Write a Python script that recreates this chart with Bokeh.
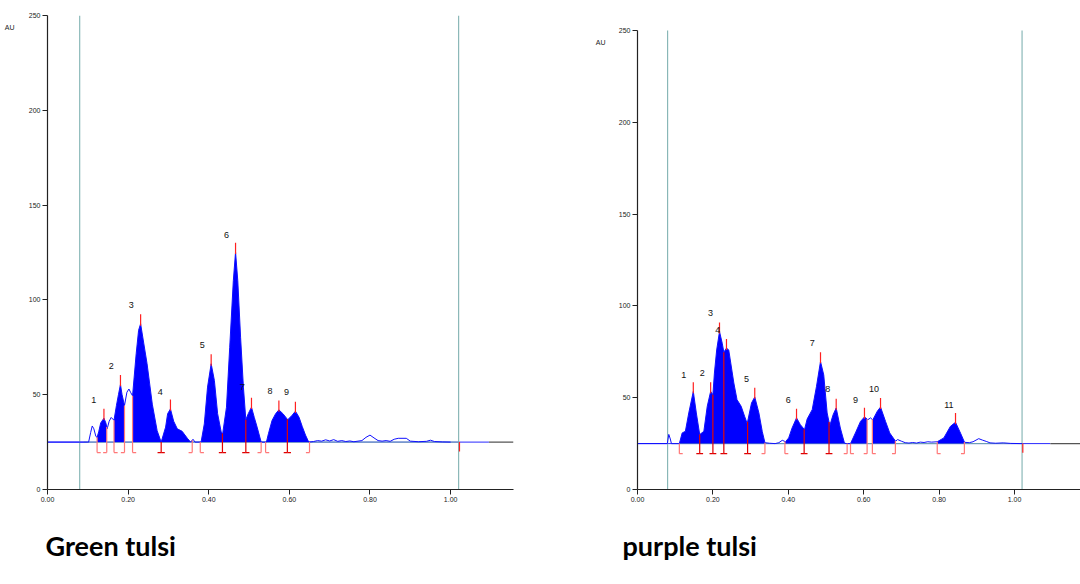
import numpy as np
from bokeh.plotting import figure
from bokeh.models import (Range1d, Title, FixedTicker, PrintfTickFormatter,
                          LinearAxis, CustomJSTickFormatter)
from bokeh.layouts import row
from bokeh.embed import file_html
from bokeh.resources import INLINE
from bokeh.core.properties import value

# ---------------- data ----------------
baseline_au = 25
application_rf = 0.08
front_rf = 1.02
front_tick_rf = 1.022
x_ticks = [0.0, 0.2, 0.4, 0.6, 0.8, 1.0]
y_ticks = [0, 50, 100, 150, 200, 250]
unit_label = "AU"
unit_label_au = 243.7

# Green tulsi densitogram (Rf, AU)
green_rf = [0.000, 0.100, 0.102, 0.107, 0.111, 0.115, 0.120, 0.123, 0.127, 0.132,
            0.140, 0.145, 0.148, 0.153, 0.158, 0.165, 0.171, 0.176, 0.181, 0.185,
            0.191, 0.197, 0.202, 0.206, 0.211, 0.220, 0.226, 0.231, 0.239, 0.247,
            0.260, 0.272, 0.282, 0.293, 0.298, 0.305, 0.313, 0.322, 0.334, 0.347,
            0.355, 0.361, 0.366, 0.381, 0.389, 0.397, 0.406, 0.414, 0.422, 0.431,
            0.4345, 0.444, 0.452, 0.461, 0.4665, 0.472, 0.479, 0.486, 0.492, 0.498,
            0.506, 0.513, 0.520, 0.530, 0.543, 0.548, 0.557, 0.566, 0.574, 0.584,
            0.596, 0.607, 0.615, 0.624, 0.632, 0.640, 0.648, 0.660, 0.670, 0.680,
            0.690, 0.700, 0.710, 0.720, 0.730, 0.740, 0.750, 0.760, 0.780, 0.790,
            0.800, 0.810, 0.820, 0.830, 0.840, 0.850, 0.860, 0.870, 0.890, 0.900,
            0.920, 0.940, 0.950, 0.960, 0.980, 1.000]
green_au = [25, 25, 25, 30, 33.5, 32, 28, 27.5, 30.4, 35.1,
            37.6, 35, 32, 36, 38, 36.5, 44.3, 50, 55.4, 50,
            44.3, 51.3, 53, 51.3, 49.4, 71.6, 84, 87.4, 76.8, 66.3,
            45, 31, 25, 32.9, 40, 42.5, 36, 32, 30.7, 27,
            25, 26.5, 25, 25, 34.6, 54, 66.3, 57.5, 40, 30.2,
            29.4, 43.4, 75, 110.2, 125.2, 110.2, 80.3, 54, 36.8, 40,
            43.4, 38, 32.9, 25, 25, 29.4, 36.4, 40, 42, 40,
            36.8, 39.2, 41.3, 38.1, 33.2, 28.7, 25, 25.3, 25.8, 25.5,
            26.2, 25.6, 26.3, 25.4, 25.8, 25.3, 25.6, 25.2, 25.8, 27.5,
            28.7, 27.2, 25.8, 25.5, 25.8, 25.4, 26.5, 27, 27, 25.5,
            25.2, 25.4, 26, 25.3, 25.1, 25]
green_starts = [0.123, 0.165, 0.211, 0.282, 0.379, 0.434, 0.492, 0.541, 0.595]
green_ends = [0.147, 0.191, 0.282, 0.359, 0.434, 0.492, 0.530, 0.595, 0.650]
green_peaks = [0.140, 0.181, 0.231, 0.305, 0.406, 0.4665, 0.506, 0.574, 0.615]
green_labels = ["1", "2", "3", "4", "5", "6", "7", "8", "9"]
green_label_rf = [0.115, 0.158, 0.208, 0.280, 0.384, 0.444, 0.483, 0.552, 0.593]
green_label_au = [47, 65.4, 97.4, 51.3, 76.3, 134, 54, 51.9, 51.2]

# Purple tulsi densitogram (Rf, AU)
purple_rf = [0.000, 0.079, 0.083, 0.087, 0.090, 0.111, 0.1185, 0.127, 0.136, 0.148,
             0.156, 0.165, 0.176, 0.185, 0.194, 0.200, 0.204, 0.210, 0.2175, 0.2247,
             0.229, 0.236, 0.242, 0.2555, 0.264, 0.275, 0.284, 0.291, 0.3024, 0.311,
             0.322, 0.331, 0.338, 0.350, 0.365, 0.375, 0.384, 0.3926, 0.401, 0.410,
             0.4218, 0.432, 0.443, 0.450, 0.4634, 0.4748, 0.4854, 0.494, 0.503, 0.510,
             0.519, 0.527, 0.538, 0.549, 0.556, 0.565, 0.578, 0.5915, 0.602, 0.611,
             0.618, 0.624, 0.636, 0.6446, 0.658, 0.669, 0.6844, 0.690, 0.700, 0.710,
             0.720, 0.730, 0.740, 0.750, 0.760, 0.770, 0.780, 0.795, 0.8125, 0.830,
             0.8435, 0.857, 0.8674, 0.880, 0.890, 0.905, 0.915, 0.925, 0.935, 0.950,
             0.970, 0.990, 1.020]
purple_au = [25, 25, 30, 27.5, 25, 25, 30.8, 31.7, 41.7, 53.4,
             41.7, 29.9, 31.7, 45.3, 53.4, 51.6, 63.4, 76, 86, 79.7,
             74.8, 77, 76, 58, 48.9, 45.3, 39.9, 35.9, 47.1, 50.4,
             41.7, 31.5, 25.5, 25.2, 25, 25.5, 26.8, 26, 28.1, 33.5,
             39, 35.3, 32.6, 38.4, 43.5, 56.2, 69.7, 62.4, 41.7, 34.8,
             40.8, 44.4, 33.5, 25.2, 25, 25, 30.8, 37.1, 39.5, 38,
             39, 37.9, 42.6, 44.9, 37, 30.8, 26.3, 27.2, 26.3, 25.5,
             25.3, 25.6, 25.3, 25.8, 25.6, 26, 25.8, 26, 28.1, 34.4,
             36.6, 30.6, 25.7, 25.5, 26, 27.7, 26.9, 26.2, 25.4, 25.2,
             25.4, 25.1, 25]
purple_starts = [0.111, 0.165, 0.200, 0.229, 0.292, 0.391, 0.442, 0.508, 0.565, 0.623, 0.795]
purple_ends = [0.165, 0.200, 0.229, 0.292, 0.338, 0.442, 0.508, 0.556, 0.609, 0.684, 0.867]
purple_peaks = [0.148, 0.194, 0.2175, 0.236, 0.311, 0.4218, 0.4854, 0.527, 0.602, 0.6446, 0.8435]
purple_labels = ["1", "2", "3", "4", "5", "6", "7", "8", "9", "10", "11"]
purple_label_rf = [0.123, 0.1715, 0.1936, 0.213, 0.289, 0.3996, 0.4634, 0.5048, 0.578, 0.627, 0.826]
purple_label_au = [62.5, 63.4, 96, 87, 60.3, 48.9, 79.7, 54.7, 48.9, 54.7, 46.2]

# ---------------- styles ----------------
FILL = "#0000FF"
CURVE = "#1010FF"
TEAL = "#74AAAA"
RED_DARK = "#E00000"
RED_LIGHT = "#FF7878"
TICK_FONT = "Liberation Sans"
TITLE_FONT = "Lato"


def panel(rf, au, starts, ends, peaks, labels, lab_rf, lab_au, title,
          width, bl, br, xmax, ymax, title_offset, au_standoff):
    p = figure(width=width, height=584, x_range=Range1d(0, xmax),
               y_range=Range1d(0, ymax), output_backend="svg",
               toolbar_location=None, min_border_left=bl, min_border_right=br,
               min_border_top=15, min_border_bottom=95)
    p.xgrid.visible = False
    p.ygrid.visible = False
    p.outline_line_color = None
    p.background_fill_color = "white"
    p.border_fill_color = "white"

    rf_a = np.array(rf, dtype=float)
    au_a = np.array(au, dtype=float)

    # baseline (blue to ~1.095, then grey)
    p.line([0, 1.095], [baseline_au, baseline_au], line_color="#2828FF", line_width=1)
    p.line([1.095, xmax], [baseline_au, baseline_au], line_color="#555555", line_width=1.2)
    p.line([0.09, front_rf], [baseline_au, baseline_au], line_color=TEAL, line_width=1)

    # application and front lines
    for v in (application_rf, front_rf):
        p.line([v, v], [0, 250], line_color=TEAL, line_width=1)

    # filled peak areas
    for s, e in zip(starts, ends):
        inner = rf_a[(rf_a > s) & (rf_a < e)]
        xs = np.concatenate([[s], inner, [e]])
        ys = np.interp(xs, rf_a, au_a)
        p.varea(x=xs, y1=baseline_au, y2=ys, fill_color=FILL, fill_alpha=1)

    # densitogram curve
    p.line(rf, au, line_color=CURVE, line_width=1)

    # peak boundary markers
    shared = set(starts) & set(ends)
    bot = baseline_au - 5.5
    hw = 0.009
    for b in sorted(set(starts) | set(ends)):
        col = RED_DARK if b in shared else RED_LIGHT
        top = max(float(np.interp(b, rf_a, au_a)), baseline_au)
        p.segment(x0=[b], y0=[bot], x1=[b], y1=[top], line_color=col, line_width=1.2)
        if b in starts:
            p.segment(x0=[b], y0=[bot], x1=[b + hw], y1=[bot], line_color=col, line_width=1.2)
        if b in ends:
            p.segment(x0=[b - hw], y0=[bot], x1=[b], y1=[bot], line_color=col, line_width=1.2)

    # peak maximum ticks
    ph = np.interp(peaks, rf_a, au_a)
    p.segment(x0=peaks, y0=ph - 1, x1=peaks, y1=ph + 5, line_color="#FF2020", line_width=1.2)

    # solvent front tick
    p.segment(x0=[front_tick_rf], y0=[baseline_au], x1=[front_tick_rf], y1=[baseline_au - 5],
              line_color="#FF2020", line_width=1.2)

    # peak numbers
    p.text(x=lab_rf, y=lab_au, text=labels, text_font=value(TICK_FONT),
           text_font_size="9px", text_align="center", text_baseline="middle",
           text_color="#111111")

    # axes
    p.xaxis.ticker = FixedTicker(ticks=x_ticks)
    p.xaxis.formatter = PrintfTickFormatter(format="%.2f")
    p.yaxis.ticker = FixedTicker(ticks=y_ticks)
    p.yaxis.bounds = (0, 250)
    for ax in (p.xaxis[0], p.yaxis[0]):
        ax.axis_line_color = "#222222"
        ax.axis_line_width = 1.2
        ax.major_tick_line_color = "#222222"
        ax.major_tick_in = 0
        ax.major_tick_out = 5
        ax.minor_tick_line_color = None
        ax.major_label_text_font = TICK_FONT
        ax.major_label_text_font_size = "7px"
        ax.major_label_text_color = "#222222"
        ax.major_label_standoff = 2

    # "AU" unit label, as an extra unlined axis on the left
    au_axis = LinearAxis(ticker=FixedTicker(ticks=[unit_label_au]),
                         formatter=CustomJSTickFormatter(code="return '%s';" % unit_label),
                         axis_line_color=None, major_tick_line_color=None,
                         minor_tick_line_color=None, major_tick_in=0, major_tick_out=0,
                         major_label_standoff=au_standoff,
                         major_label_text_font=TICK_FONT,
                         major_label_text_font_size="7px",
                         major_label_text_color="#222222")
    p.add_layout(au_axis, "left")

    # panel caption below the axis
    p.add_layout(Title(text=title, align="left", offset=title_offset, standoff=44,
                       text_font=TITLE_FONT, text_font_size="27px",
                       text_font_style="bold", text_color="#000000"), "below")
    return p


p1 = panel(green_rf, green_au, green_starts, green_ends, green_peaks, green_labels,
           green_label_rf, green_label_au, "Green tulsi",
           width=580, bl=47, br=67, xmax=1.156, ymax=250,
           title_offset=-2, au_standoff=11)
p2 = panel(purple_rf, purple_au, purple_starts, purple_ends, purple_peaks, purple_labels,
           purple_label_rf, purple_label_au, "purple tulsi",
           width=500, bl=57, br=0, xmax=1.175, ymax=258.17,
           title_offset=-15, au_standoff=10)

layout = row(p1, p2)
open("out.html", "w").write(file_html(layout, INLINE))
